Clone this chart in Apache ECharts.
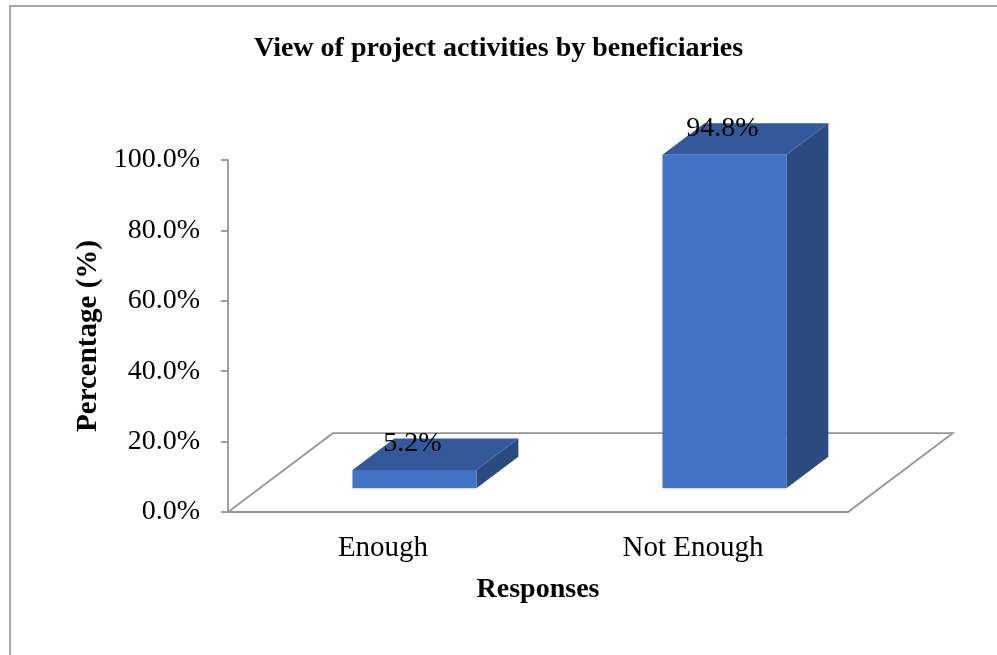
<!DOCTYPE html>
<html><head><meta charset="utf-8">
<script src="https://cdn.jsdelivr.net/npm/echarts@6/dist/echarts.min.js"></script>
<style>html,body{margin:0;padding:0;background:#fff}#c{width:997px;height:655px}</style>
</head><body><div id="c"></div>
<script>
// ---- data ----
const categories = ['Enough', 'Not Enough'];
const values = [5.2, 94.8];
const yTicks = [0, 20, 40, 60, 80, 100];
const titleText = 'View of project activities by beneficiaries';
const xName = 'Responses';
const yName = 'Percentage (%)';

// ---- style ----
const FONT = '"Liberation Serif", "Times New Roman", serif';
const LINE = '#959595';
const FRONT = '#4472C4';
const TOP = '#33599B';
const SIDE = '#2A4A80';
const DEPTH_X = 0.169;     // floor depth as share of plot width
const DEPTH_SLOPE = 0.752; // vertical rise per unit of depth shift
const BAR_FRONT = 0.3, BAR_BACK = 0.7, BAR_HALF = 0.2;

const chart = echarts.init(document.getElementById('c'), null, {renderer: 'canvas'});

function depth(cs) {
  const dx = cs.width * DEPTH_X;
  return [dx, -dx * DEPTH_SLOPE];
}

function renderFloor(params, api) {
  const cs = params.coordSys;
  const [dx, dy] = depth(cs);
  const yb = cs.y + cs.height;
  return {
    type: 'polygon',
    shape: {points: [[cs.x, yb], [cs.x + cs.width, yb], [cs.x + cs.width + dx, yb + dy], [cs.x + dx, yb + dy]]},
    style: {fill: 'none', stroke: LINE, lineWidth: 1.8}
  };
}

function renderBar(params, api) {
  const idx = api.value(0), v = api.value(1);
  const base = api.coord([idx, 0]);
  const top = api.coord([idx, v]);
  const band = api.size([1, 0])[0];
  const [dx, dy] = depth(params.coordSys);
  const fx = BAR_FRONT * dx, fy = BAR_FRONT * dy;
  const ddx = (BAR_BACK - BAR_FRONT) * dx, ddy = (BAR_BACK - BAR_FRONT) * dy;
  const hw = band * BAR_HALF;
  const x0 = base[0] - hw + fx, x1 = base[0] + hw + fx;
  const yb = base[1] + fy, yt = top[1] + fy;
  return {
    type: 'group',
    children: [
      {type: 'polygon', shape: {points: [[x1, yt], [x1 + ddx, yt + ddy], [x1 + ddx, yb + ddy], [x1, yb]]}, style: {fill: SIDE}},
      {type: 'polygon', shape: {points: [[x0, yt], [x1, yt], [x1 + ddx, yt + ddy], [x0 + ddx, yt + ddy]]}, style: {fill: TOP}},
      {type: 'rect', shape: {x: x0, y: yt, width: x1 - x0, height: yb - yt}, style: {fill: FRONT}},
      {type: 'text', z2: 10, style: {
        x: base[0] + fx - 2, y: yt + ddy + 5,
        text: v.toFixed(1) + '%', align: 'center', verticalAlign: 'middle',
        font: '28px ' + FONT, fill: '#000'
      }}
    ]
  };
}

chart.setOption({
  backgroundColor: '#fff',
  animation: false,
  graphic: [{
    type: 'rect', silent: true, z: -10,
    shape: {x: 10, y: 6, width: 1100, height: 800},
    style: {fill: 'none', stroke: '#8c8c8c', lineWidth: 1.5}
  }],
  title: {
    text: titleText, left: 'center', top: 30,
    textStyle: {fontFamily: FONT, fontSize: 28, fontWeight: 'bold', color: '#000'}
  },
  grid: {left: 228, right: 149, top: 160, bottom: 143, containLabel: false},
  xAxis: {
    type: 'category', data: categories,
    name: xName, nameLocation: 'middle', nameGap: 64,
    nameTextStyle: {fontFamily: FONT, fontSize: 28, fontWeight: 'bold', color: '#000'},
    axisLine: {show: false}, axisTick: {show: false}, splitLine: {show: false},
    axisLabel: {margin: 22, fontFamily: FONT, fontSize: 29, color: '#000'}
  },
  yAxis: {
    type: 'value', min: yTicks[0], max: yTicks[yTicks.length - 1], interval: yTicks[1] - yTicks[0],
    name: yName, nameLocation: 'middle', nameGap: 122, nameRotate: 90,
    nameTextStyle: {fontFamily: FONT, fontSize: 29, fontWeight: 'bold', color: '#000'},
    axisLine: {show: true, lineStyle: {color: LINE, width: 1.8}},
    axisTick: {show: true, length: 7, lineStyle: {color: LINE, width: 1.8}},
    splitLine: {show: false},
    axisLabel: {margin: 28, fontFamily: FONT, fontSize: 28, color: '#000',
      formatter: v => v.toFixed(1) + '%'}
  },
  series: [
    {type: 'custom', name: 'floor', data: [[0, 0]], renderItem: renderFloor, z: 1, silent: true},
    {type: 'custom', name: 'Percentage', data: categories.map((c, i) => [i, values[i]]),
      renderItem: renderBar, z: 2, encode: {x: 0, y: 1}}
  ]
});
</script>
</body></html>
